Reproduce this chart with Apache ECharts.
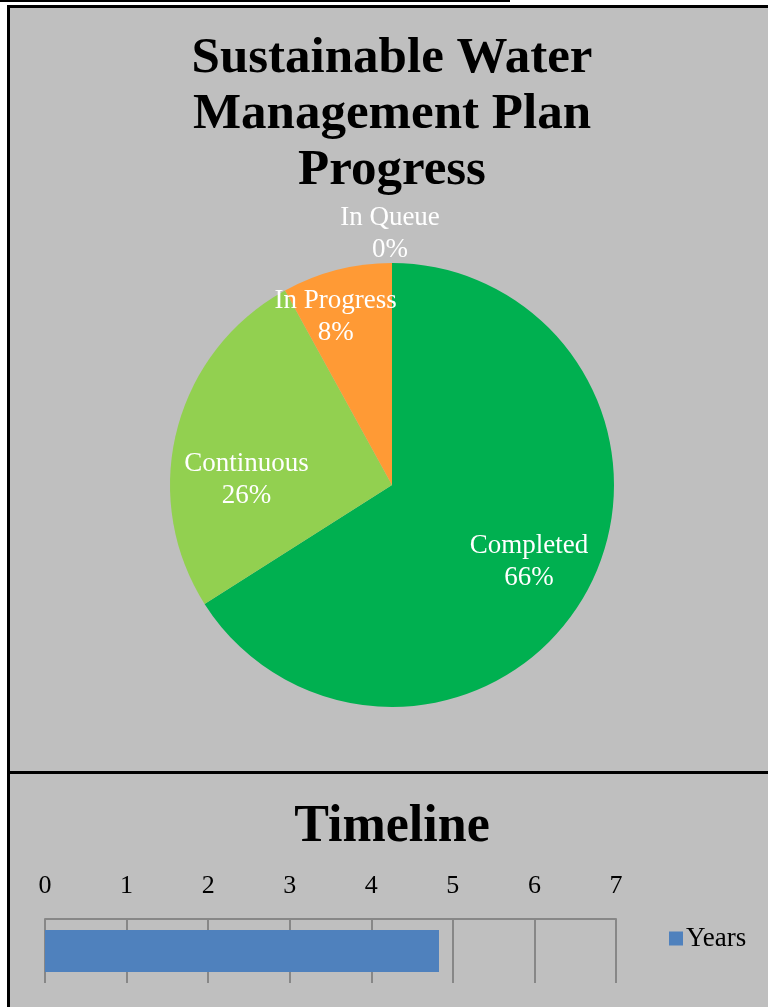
<!DOCTYPE html>
<html>
<head>
<meta charset="utf-8">
<script src="https://cdn.jsdelivr.net/npm/echarts@6/dist/echarts.min.js"></script>
<style>
  html, body { margin: 0; padding: 0; width: 768px; height: 1007px; background: #ffffff; overflow: hidden; }
  #topline { position: absolute; left: 0; top: 0; width: 510px; height: 2px; background: #000; }
  #box { position: absolute; left: 7px; top: 5px; width: 761px; height: 1002px; background: #BFBFBF;
         border-left: 3px solid #000; border-top: 3px solid #000; box-sizing: border-box; }
  #divider { position: absolute; left: 7px; top: 771px; width: 761px; height: 3px; background: #000; }
  #chart { position: absolute; left: 0; top: 0; width: 768px; height: 1007px; }
</style>
</head>
<body>
<div id="topline"></div>
<div id="box"></div>
<div id="divider"></div>
<div id="chart"></div>
<script>
// ---- data ----
const pieTitle = 'Sustainable Water\nManagement Plan\nProgress';
const statusNames = ['Completed', 'Continuous', 'In Progress', 'In Queue'];
const statusValues = [66, 26, 8, 0];
const timelineTitle = 'Timeline';
const timelineCategories = ['Years'];
const timelineValues = [4.83];
const timelineTicks = [0, 1, 2, 3, 4, 5, 6, 7];

// ---- styles ----
const sliceColors = ['#00B050', '#92D050', '#FF9A35', '#4F81BD'];
const labelShift = [[37, 22], [-35, 23], [-28, -58], [3, 5]];
const serif = '"Liberation Serif", "Times New Roman", serif';

const chart = echarts.init(document.getElementById('chart'), null, { renderer: 'canvas' });

const pieData = statusNames.map((n, i) => {
  const item = { name: n, value: statusValues[i], itemStyle: { color: sliceColors[i] } };
  if (i === 3) {
    item.label = { position: 'outside' };
    item.labelLine = { show: false, length: 2, length2: 0 };
  }
  return item;
});

chart.setOption({
  backgroundColor: 'transparent',
  animation: false,
  title: [
    { text: pieTitle, left: 387, textAlign: 'center', top: 26,
      textStyle: { fontFamily: serif, fontWeight: 'bold', fontSize: 51, lineHeight: 56, color: '#000' } },
    { text: timelineTitle, left: 387, textAlign: 'center', top: 794,
      textStyle: { fontFamily: serif, fontWeight: 'bold', fontSize: 52, lineHeight: 58, color: '#000' } }
  ],
  legend: {
    data: timelineCategories,
    left: 664, top: 920, icon: 'rect', itemWidth: 14, itemHeight: 14, itemGap: 4,
    textStyle: { fontFamily: serif, fontSize: 27, color: '#000', padding: [0, 0, 0, -2] }
  },
  grid: { left: 45, right: 152, top: 919, bottom: 24, containLabel: false },
  xAxis: {
    type: 'value', position: 'top', min: timelineTicks[0], max: timelineTicks[timelineTicks.length - 1], interval: 1,
    axisLine: { show: true, lineStyle: { color: '#878787', width: 2 } },
    axisTick: { show: false },
    axisLabel: { margin: 20, fontFamily: serif, fontSize: 26, color: '#000' },
    splitLine: { show: true, lineStyle: { color: '#878787', width: 2 } }
  },
  yAxis: {
    type: 'category', data: timelineCategories,
    axisLine: { show: false }, axisTick: { show: false }, axisLabel: { show: false }
  },
  series: [
    {
      type: 'pie',
      center: [392, 485],
      radius: 222,
      startAngle: 90,
      clockwise: true,
      avoidLabelOverlap: false,
      stillShowZeroSum: true,
      label: {
        show: true, position: 'inside',
        formatter: '{b}\n{d}%',
        fontFamily: serif, fontSize: 27, lineHeight: 32, color: '#ffffff'
      },
      labelLine: { show: false },
      labelLayout: function (p) {
        const s = labelShift[p.dataIndex];
        if (p.dataIndex === 3) return { align: 'center', verticalAlign: 'bottom', dx: s[0], dy: s[1] };
        return s ? { dx: s[0], dy: s[1] } : {};
      },
      itemStyle: { borderWidth: 0 },
      emphasis: { disabled: true },
      data: pieData
    },
    {
      type: 'bar',
      name: 'Years',
      data: timelineValues,
      barWidth: '66%',
      itemStyle: { color: '#4F81BD' }
    }
  ]
});
</script>
</body>
</html>
